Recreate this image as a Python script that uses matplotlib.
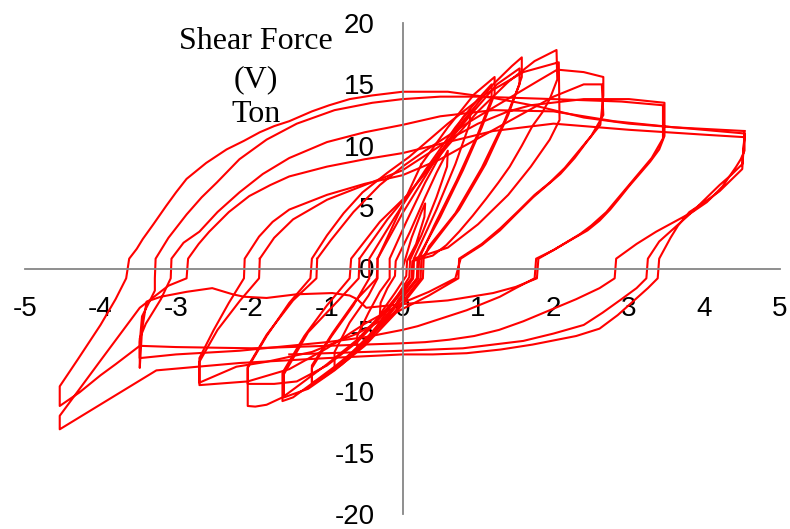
import matplotlib.pyplot as plt

plt.rcParams['axes.unicode_minus'] = False

# hysteresis loops, (displacement, shear force)
loop0 = [(0, 0), (0.12, 2.5), (0.25, 4.6), (0.3, 5.3), (0.29, 4.2), (0.18, 2.0), (0.06, 0.6), (0.05, -0.6),
         (-0.1, -2.0), (-0.25, -3.3), (-0.3, -3.8), (-0.29, -2.8), (-0.2, -1.6), (-0.1, -0.6), (-0.09, 0.6),
         (0.1, 3.0), (0.3, 5.8), (0.45, 7.8), (0.6, 9.6), (0.59, 8.3), (0.45, 5.8), (0.25, 2.7), (0.1, 0.7),
         (0.09, -0.7), (-0.15, -3.0), (-0.35, -4.8), (-0.5, -5.9), (-0.6, -6.6), (-0.6, -5.5), (-0.45, -3.6),
         (-0.3, -1.9), (-0.17, -0.8), (-0.17, 0.8), (0.05, 3.8), (0.3, 7.0), (0.55, 9.8), (0.8, 12.3),
         (0.9, 13.0), (0.89, 11.8), (0.7, 8.5), (0.45, 4.8), (0.15, 0.8), (0.14, -0.8), (-0.15, -3.5),
         (-0.45, -5.8), (-0.7, -7.3), (-0.9, -8.2), (-0.9, -6.8), (-0.7, -4.4), (-0.45, -2.2), (-0.33, -0.8),
         (-0.33, 0.8), (-0.05, 4.5), (0.25, 8.5)]

loop1 = [(0.25, 8.5), (0.6, 11.5), (0.95, 14.2), (1.22, 15.6), (1.22, 14.2), (1.05, 11.5), (0.8, 8.0),
         (0.5, 4.2), (0.2, 0.8), (0.19, -0.8), (-0.1, -3.0), (-0.45, -5.5), (-0.8, -7.6), (-1.05, -8.8),
         (-1.2, -9.5), (-1.2, -8.1), (-0.95, -5.6), (-0.65, -3.0), (-0.44, -0.8), (-0.44, 0.8), (-0.1, 4.2),
         (0.3, 8.0), (0.7, 11.5), (1.0, 13.8), (1.18, 15.0), (1.18, 13.8), (1.0, 11.0), (0.72, 7.2),
         (0.42, 3.5), (0.22, 0.8), (0.21, -0.8), (-0.1, -3.2), (-0.45, -5.8), (-0.8, -7.8), (-1.05, -8.9),
         (-1.2, -9.3), (-1.2, -7.9), (-0.92, -5.2), (-0.62, -2.6), (-0.34, -0.8), (-0.33, 0.8)]

loop2 = [(-0.33, 0.8), (0.0, 4.5), (0.4, 8.5), (0.8, 12.0), (1.2, 15.0), (1.45, 16.5), (1.58, 17.2),
         (1.58, 15.6), (1.4, 12.5), (1.1, 8.5), (0.75, 4.8), (0.4, 2.0), (0.25, 0.8), (0.24, -0.8),
         (-0.1, -3.5), (-0.5, -6.0), (-0.9, -8.0), (-1.25, -9.6), (-1.45, -10.5), (-1.59, -10.8),
         (-1.59, -8.5), (-1.3, -5.5), (-1.0, -3.0), (-0.7, -0.8), (-0.68, 0.8), (-0.3, 3.8), (0.1, 6.2),
         (0.5, 9.5), (0.9, 12.5), (1.25, 15.0), (1.55, 16.3), (1.55, 15.0), (1.35, 12.0), (1.05, 8.2),
         (0.7, 4.5), (0.35, 1.8), (0.28, 0.8), (0.27, -0.8), (-0.1, -3.7), (-0.5, -6.3), (-0.9, -8.3),
         (-1.25, -9.8), (-1.57, -10.5), (-1.57, -8.6), (-1.25, -5.2), (-0.85, -2.6), (-0.58, -0.8),
         (-0.57, 0.8)]

loop3 = [(-0.57, 0.8), (-0.2, 4.0), (0.2, 7.0), (0.6, 10.0), (1.0, 12.8), (1.4, 15.2), (1.75, 16.9),
         (2.04, 17.8), (2.05, 15.4), (1.95, 13.8), (1.85, 12.7), (1.72, 11.6), (1.58, 10.0), (1.42, 8.3),
         (1.27, 7.0), (1.11, 5.7), (0.93, 4.3), (0.75, 3.0), (0.58, 1.9), (0.4, 1.05), (0.13, 0.6),
         (0.12, -0.8), (-0.2, -3.2), (-0.6, -5.8), (-1.0, -7.8), (-1.37, -9.5), (-1.59, -10.5),
         (-1.8, -11.1), (-1.95, -11.25), (-2.05, -11.2), (-2.05, -8.1), (-1.8, -5.5), (-1.5, -2.8),
         (-1.22, -0.8), (-1.2, 0.8), (-1.0, 2.7), (-0.78, 4.5), (-0.53, 6.2), (-0.2, 7.8), (0.09, 9.1),
         (0.6, 11.8), (1.1, 14.2), (1.6, 16.0), (2.07, 16.8), (2.08, 12.1), (1.95, 10.5), (1.7, 8.3),
         (1.4, 6.0), (1.0, 3.6), (0.6, 1.7), (0.15, 0.8), (0.14, -0.8), (-0.2, -3.4), (-0.6, -6.0),
         (-1.0, -7.9), (-1.4, -9.2), (-1.7, -9.4), (-2.05, -9.4), (-2.05, -8.0), (-1.8, -5.4),
         (-1.45, -2.6), (-1.14, -0.8), (-1.13, 0.8)]

loop4 = [(-1.13, 0.8), (-0.95, 2.3), (-0.65, 4.6), (-0.3, 6.8), (0.0, 8.3), (0.3, 9.6), (0.9, 12.0),
         (1.5, 14.2), (1.8, 15.3), (2.05, 16.2), (2.4, 16.0), (2.66, 15.6), (2.66, 14.1), (2.62, 11.7),
         (2.45, 10.4), (2.28, 9.0), (2.09, 7.7), (1.9, 6.7), (1.73, 5.8), (1.5, 4.4), (1.29, 3.1),
         (1.05, 1.9), (0.77, 0.8), (0.7, -0.8), (0.35, -1.9), (0.0, -2.8), (-0.5, -4.5), (-1.0, -6.5),
         (-1.5, -8.2), (-2.05, -9.2), (-2.69, -9.5), (-2.69, -7.3), (-2.5, -5.0), (-2.3, -2.8),
         (-2.1, -0.8), (-2.09, 0.8), (-1.9, 2.6), (-1.72, 3.8), (-1.5, 4.8), (-1.0, 6.0), (-0.5, 6.9),
         (0.0, 7.6), (0.5, 8.9), (1.0, 10.6), (1.5, 12.3), (2.0, 14.0), (2.4, 15.0), (2.64, 15.0),
         (2.66, 12.5), (2.5, 10.8), (2.15, 8.2), (1.95, 7.0), (1.75, 6.0), (1.52, 4.6), (1.3, 3.3),
         (1.05, 2.0), (0.8, 1.0), (0.75, 0.8), (0.74, -0.8), (0.35, -2.2), (0.0, -3.3), (-0.6, -5.3),
         (-1.2, -6.8), (-1.8, -7.6), (-2.2, -8.0), (-2.69, -9.3), (-2.69, -7.6), (-2.45, -5.0),
         (-2.15, -2.6), (-1.9, -0.8), (-1.89, 0.8)]

loop5 = [(-1.89, 0.8), (-1.7, 2.5), (-1.45, 4.0), (-1.0, 5.6), (-0.5, 6.8), (0.0, 8.0), (0.3, 9.2),
         (0.7, 10.8), (1.0, 11.8), (1.4, 12.8), (1.7, 13.3), (2.4, 13.8), (3.0, 13.8), (3.47, 13.5),
         (3.47, 10.8), (3.40, 9.7), (3.28, 8.7), (3.14, 7.7), (3.0, 6.7), (2.87, 5.7), (2.75, 4.8),
         (2.61, 3.9), (2.45, 3.1), (2.25, 2.4), (2.0, 1.5), (1.77, 0.8), (1.75, -0.8), (1.5, -1.6),
         (1.29, -2.3), (1.05, -2.9), (0.85, -3.4), (0.6, -3.9), (0.4, -4.3), (0.2, -4.7), (0.0, -5.0),
         (-0.5, -5.6), (-1.0, -6.0), (-2.16, -6.7), (-3.0, -7.0), (-3.48, -7.3), (-3.48, -6.0),
         (-3.45, -3.9), (-3.36, -2.8), (-3.28, -1.8), (-3.28, -0.8), (-3.27, 0.8), (-3.1, 2.5),
         (-2.86, 4.4), (-2.66, 5.8), (-2.46, 7.0), (-2.16, 8.9), (-1.8, 10.5), (-1.4, 11.8),
         (-0.9, 12.9), (-0.4, 13.5), (0.0, 13.8), (0.5, 14.0), (1.0, 14.0), (2.0, 13.8), (2.9, 13.6),
         (3.45, 13.3), (3.45, 10.6), (3.3, 9.0), (3.15, 7.9), (3.0, 6.8), (2.85, 5.7), (2.7, 4.6),
         (2.5, 3.5), (2.35, 2.8), (2.0, 1.5), (1.8, 0.8), (1.78, -0.8), (1.5, -1.5), (1.2, -2.0),
         (0.6, -2.6), (0.0, -2.9), (-0.48, -3.2), (-0.6, -2.5), (-0.7, -2.2), (-0.93, -2.0),
         (-1.4, -2.1), (-1.8, -2.4), (-2.1, -2.3), (-2.25, -2.1), (-2.52, -1.6), (-2.86, -1.9),
         (-3.2, -2.3), (-3.39, -2.7), (-3.45, -5.0), (-3.48, -8.1), (-3.48, -5.7), (-3.4, -4.5),
         (-3.2, -2.5), (-3.07, -0.8), (-3.06, 0.8), (-2.9, 2.1), (-2.69, 3.0), (-2.45, 4.6),
         (-2.16, 6.2), (-1.85, 7.7), (-1.5, 9.0), (-1.0, 10.3), (-0.5, 11.1), (0.0, 11.7), (0.5, 12.4),
         (1.2, 12.9), (2.0, 12.8), (2.8, 12.0), (3.6, 11.5), (4.53, 11.2)]

loop6 = [(4.53, 11.2), (4.53, 9.6), (4.48, 8.9), (4.42, 8.3), (4.33, 7.5), (4.24, 6.7), (4.13, 6.0),
         (4.03, 5.4), (3.84, 4.6), (3.6, 3.8), (3.36, 3.0), (3.1, 2.0), (2.83, 0.8), (2.81, -0.8),
         (2.61, -1.6), (2.3, -2.5), (1.95, -3.4), (1.6, -4.3), (1.28, -5.0), (0.95, -5.5), (0.62, -5.8),
         (0.3, -6.0), (-0.04, -6.1), (-1.0, -6.3), (-2.0, -6.5), (-3.0, -6.4), (-3.48, -6.3),
         (-3.8, -7.8), (-4.0, -8.7), (-4.28, -10.1), (-4.54, -11.2), (-4.54, -9.6), (-4.3, -7.4),
         (-4.0, -4.6), (-3.8, -2.5), (-3.66, -0.8), (-3.62, 0.8), (-3.52, 1.6), (-3.44, 2.4),
         (-3.3, 3.6), (-3.13, 5.1), (-3.0, 6.2), (-2.86, 7.3), (-2.6, 8.6), (-2.33, 9.7), (-2.1, 10.4),
         (-1.89, 11.1), (-1.7, 11.6), (-1.5, 12.0), (-1.2, 12.8), (-0.97, 13.3), (-0.7, 13.8),
         (-0.4, 14.1), (0.0, 14.4), (0.6, 14.4), (1.2, 13.9), (1.8, 13.2), (2.4, 12.3), (3.0, 11.8),
         (3.8, 11.4), (4.53, 11.0), (4.5, 8.1), (4.35, 7.2), (4.2, 6.3), (4.0, 5.4), (3.8, 4.6),
         (3.65, 3.5), (3.55, 2.5), (3.4, 0.8), (3.38, -0.8), (3.25, -1.6), (3.05, -2.7), (2.85, -3.8),
         (2.61, -4.9), (2.3, -5.5), (1.72, -6.2), (1.3, -6.6), (0.85, -6.9), (0.4, -7.0), (0.0, -7.0),
         (-1.0, -7.3), (-2.16, -7.7), (-3.26, -8.3), (-3.9, -10.7), (-4.54, -13.1), (-4.54, -12.0),
         (-4.0, -7.5), (-3.48, -3.2), (-3.1, -1.4), (-2.86, -0.8), (-2.84, 0.8), (-2.7, 2.0),
         (-2.56, 3.0), (-2.3, 4.6), (-2.03, 5.9), (-1.75, 6.8), (-1.5, 7.5), (-1.0, 8.3), (-0.5, 8.9),
         (0.0, 9.4), (0.6, 10.3), (1.2, 11.2), (2.0, 11.8), (3.0, 11.3), (4.0, 10.9), (4.53, 10.7),
         (4.5, 8.5), (4.35, 7.6), (4.2, 6.8), (4.0, 5.6), (3.8, 4.4), (3.6, 3.3), (3.4, 2.2),
         (3.25, 0.8), (3.23, -0.8), (3.1, -1.6), (2.9, -2.5), (2.65, -3.6), (2.4, -4.6), (2.0, -5.3),
         (1.6, -5.9), (1.2, -6.2), (0.8, -6.5), (0.4, -6.6), (0.0, -6.7), (-1.5, -7.0)]

loops = [loop0, loop1, loop2, loop3, loop4, loop5, loop6]

fig = plt.figure(figsize=(7.9, 5.29), dpi=100)
ax = fig.add_axes([25 / 790, 15 / 529, 755 / 790, 491 / 529])

for lp in loops:
    xs = [p[0] for p in lp]
    ys = [p[1] for p in lp]
    ax.plot(xs, ys, color='#ff0000', lw=1.5, solid_joinstyle='round')

ax.set_xlim(-5, 5)
ax.set_ylim(-20, 20)
ax.set_xticks(range(-5, 6))
ax.set_yticks(range(-20, 21, 5))

for s in ['top', 'right']:
    ax.spines[s].set_visible(False)
ax.spines['left'].set_position(('data', 0))
ax.spines['bottom'].set_position(('data', 0))
for s in ['left', 'bottom']:
    ax.spines[s].set_color('#868686')
    ax.spines[s].set_linewidth(1.3)

ax.tick_params(length=0, labelsize=20, pad=20)
for lab in ax.get_xticklabels() + ax.get_yticklabels():
    lab.set_fontfamily('Liberation Sans')

# y axis title, three lines in a serif face
title_lines = ['Shear Force', '(V)', 'Ton']
baselines = [49, 87, 122]
for t, b in zip(title_lines, baselines):
    fig.text(256 / 790, 1 - b / 529, t, ha='center', va='baseline',
             fontsize=23, family='Liberation Serif')

fig.savefig('out.png', dpi=100)
